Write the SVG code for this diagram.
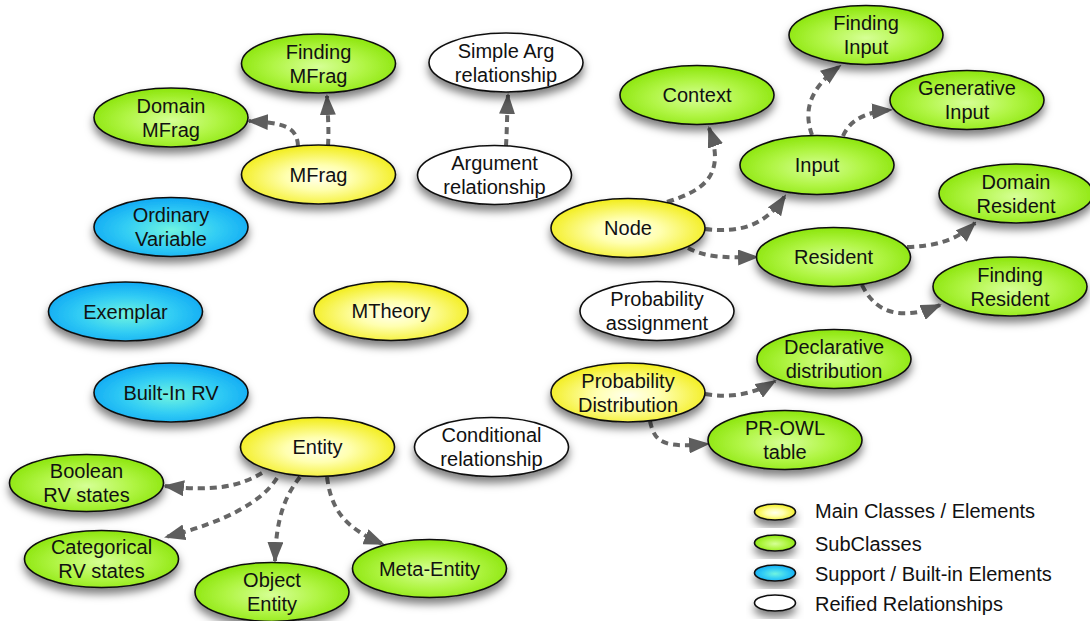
<svg xmlns="http://www.w3.org/2000/svg" width="1090" height="621" viewBox="0 0 1090 621">
  <defs>
    <radialGradient id="gYellow" cx="50%" cy="55%" r="60%">
      <stop offset="0" stop-color="#ffffee"/>
      <stop offset="0.35" stop-color="#ffffb0"/>
      <stop offset="1" stop-color="#f0ea00"/>
    </radialGradient>
    <radialGradient id="gGreen" cx="50%" cy="55%" r="60%">
      <stop offset="0" stop-color="#d6ff96"/>
      <stop offset="0.5" stop-color="#b0f544"/>
      <stop offset="1" stop-color="#84e200"/>
    </radialGradient>
    <radialGradient id="gBlue" cx="50%" cy="55%" r="60%">
      <stop offset="0" stop-color="#70f4e0"/>
      <stop offset="0.5" stop-color="#32cdf4"/>
      <stop offset="1" stop-color="#0aa2f4"/>
    </radialGradient>
    <filter id="shadow" x="-20%" y="-30%" width="140%" height="180%">
      <feDropShadow dx="0" dy="6" stdDeviation="4" flood-color="#000" flood-opacity="0.5"/>
    </filter>
    <marker id="arrow" viewBox="0 0 21 16" refX="19" refY="8" markerWidth="21" markerHeight="16" markerUnits="userSpaceOnUse" orient="auto">
      <path d="M0,0 L21,8 L0,16 z" fill="#5e5e5e"/>
    </marker>
  </defs>
  <style>
    .n ellipse { stroke: #111; stroke-width: 1.6; filter: url(#shadow); }
    .main ellipse { fill: url(#gYellow); }
    .sub ellipse { fill: url(#gGreen); }
    .sup ellipse { fill: url(#gBlue); }
    .rel ellipse { fill: #ffffff; }
    .n text, .legend text { font-family: "Liberation Sans", Arial, Helvetica, sans-serif; font-size: 20px; fill: #111; }
    .n text { text-anchor: middle; }
    .edge { fill: none; stroke: #666; stroke-width: 4; stroke-dasharray: 7 5; marker-end: url(#arrow); }
    .legend ellipse { stroke: #111; stroke-width: 1.6; filter: url(#shadow); }
  </style>

  <rect width="1090" height="621" fill="#ffffff"/>

  <!-- connectors -->
  <g id="connectors">
    <path class="edge" d="M298,146 C297,128 287,123 249,121"/>
    <path class="edge" d="M328,146 C329,130 328,118 327,96"/>
    <path class="edge" d="M506,146 C507,130 507,115 508,95"/>
    <path class="edge" d="M667,202 C705,190 726,175 709,128"/>
    <path class="edge" d="M705,229 C740,233 765,226 785,196"/>
    <path class="edge" d="M688,248 C705,257 722,258 757,257"/>
    <path class="edge" d="M812,135 C803,110 810,88 840,66"/>
    <path class="edge" d="M843,136 C850,120 865,112 891,110"/>
    <path class="edge" d="M907,247 C935,246 956,241 975,223"/>
    <path class="edge" d="M862,285 C875,312 900,322 940,305"/>
    <path class="edge" d="M705,394 C730,398 752,395 775,381"/>
    <path class="edge" d="M650,421 C655,446 668,447 708,444"/>
    <path class="edge" d="M262,473 C240,486 215,492 165,486"/>
    <path class="edge" d="M277,478 C262,502 225,522 166,537"/>
    <path class="edge" d="M300,477 C285,496 276,518 275,561"/>
    <path class="edge" d="M327,477 C331,507 342,527 383,544"/>
  </g>

  <!-- MFrag and its subclasses -->
  <g id="finding-mfrag" class="n sub"><ellipse cx="318.5" cy="63.5" rx="77" ry="29.5"/><text x="318.5" y="58.5">Finding</text><text x="318.5" y="82.5">MFrag</text></g>
  <g id="domain-mfrag" class="n sub"><ellipse cx="171" cy="117.5" rx="77" ry="29.5"/><text x="171" y="112.5">Domain</text><text x="171" y="136.5">MFrag</text></g>
  <g id="mfrag" class="n main"><ellipse cx="318.5" cy="174.5" rx="77" ry="29.5"/><text x="318.5" y="181.5">MFrag</text></g>

  <!-- argument relationships -->
  <g id="simple-arg-relationship" class="n rel"><ellipse cx="506" cy="62.5" rx="77" ry="29.5"/><text x="506" y="57.5">Simple Arg</text><text x="506" y="81.5">relationship</text></g>
  <g id="argument-relationship" class="n rel"><ellipse cx="494.5" cy="175" rx="77" ry="29.5"/><text x="494.5" y="170">Argument</text><text x="494.5" y="194">relationship</text></g>

  <!-- support elements -->
  <g id="ordinary-variable" class="n sup"><ellipse cx="171" cy="227" rx="77" ry="29.5"/><text x="171" y="222">Ordinary</text><text x="171" y="246">Variable</text></g>
  <g id="exemplar" class="n sup"><ellipse cx="125.5" cy="311.5" rx="77" ry="29.5"/><text x="125.5" y="318.5">Exemplar</text></g>
  <g id="built-in-rv" class="n sup"><ellipse cx="171" cy="392.5" rx="77" ry="29.5"/><text x="171" y="399.5">Built-In RV</text></g>

  <g id="mtheory" class="n main"><ellipse cx="391" cy="311" rx="77" ry="29.5"/><text x="391" y="318">MTheory</text></g>

  <!-- Entity and its subclasses -->
  <g id="entity" class="n main"><ellipse cx="317.5" cy="447" rx="77" ry="29.5"/><text x="317.5" y="454">Entity</text></g>
  <g id="conditional-relationship" class="n rel"><ellipse cx="491.5" cy="447" rx="77" ry="29.5"/><text x="491.5" y="442">Conditional</text><text x="491.5" y="466">relationship</text></g>
  <g id="boolean-rv-states" class="n sub"><ellipse cx="86.5" cy="483" rx="77" ry="28.5"/><text x="86.5" y="478">Boolean</text><text x="86.5" y="502">RV states</text></g>
  <g id="categorical-rv-states" class="n sub"><ellipse cx="101.5" cy="559" rx="77" ry="28.5"/><text x="101.5" y="554">Categorical</text><text x="101.5" y="578">RV states</text></g>
  <g id="object-entity" class="n sub"><ellipse cx="272" cy="592" rx="77" ry="29.5"/><text x="272" y="587">Object</text><text x="272" y="611">Entity</text></g>
  <g id="meta-entity" class="n sub"><ellipse cx="429.5" cy="568.5" rx="77" ry="29"/><text x="429.5" y="575.5">Meta-Entity</text></g>

  <!-- Node and its subclasses -->
  <g id="context" class="n sub"><ellipse cx="697" cy="95" rx="77" ry="29.5"/><text x="697" y="102">Context</text></g>
  <g id="finding-input" class="n sub"><ellipse cx="866" cy="35" rx="77" ry="29.5"/><text x="866" y="30">Finding</text><text x="866" y="54">Input</text></g>
  <g id="generative-input" class="n sub"><ellipse cx="967" cy="100" rx="77" ry="29.5"/><text x="967" y="95">Generative</text><text x="967" y="119">Input</text></g>
  <g id="input" class="n sub"><ellipse cx="817" cy="165" rx="77" ry="29.5"/><text x="817" y="172">Input</text></g>
  <g id="node" class="n main"><ellipse cx="628" cy="228" rx="77" ry="29.5"/><text x="628" y="235">Node</text></g>
  <g id="resident" class="n sub"><ellipse cx="833.5" cy="257" rx="77" ry="29.5"/><text x="833.5" y="264">Resident</text></g>
  <g id="domain-resident" class="n sub"><ellipse cx="1016" cy="193.5" rx="77" ry="29.5"/><text x="1016" y="188.5">Domain</text><text x="1016" y="212.5">Resident</text></g>
  <g id="finding-resident" class="n sub"><ellipse cx="1010" cy="286.5" rx="77" ry="29.5"/><text x="1010" y="281.5">Finding</text><text x="1010" y="305.5">Resident</text></g>

  <!-- probability -->
  <g id="probability-assignment" class="n rel"><ellipse cx="657" cy="311" rx="77" ry="29.5"/><text x="657" y="306">Probability</text><text x="657" y="330">assignment</text></g>
  <g id="probability-distribution" class="n main"><ellipse cx="628" cy="392.5" rx="77" ry="29.5"/><text x="628" y="387.5">Probability</text><text x="628" y="411.5">Distribution</text></g>
  <g id="declarative-distribution" class="n sub"><ellipse cx="834" cy="359" rx="77" ry="29.5"/><text x="834" y="354">Declarative</text><text x="834" y="378">distribution</text></g>
  <g id="pr-owl-table" class="n sub"><ellipse cx="785" cy="440" rx="77" ry="29.5"/><text x="785" y="435">PR-OWL</text><text x="785" y="459">table</text></g>

  <!-- legend -->
  <g id="legend" class="legend">
    <ellipse cx="775" cy="512" rx="20.5" ry="8" fill="url(#gYellow)"/>
    <ellipse cx="775" cy="543" rx="20.5" ry="8" fill="url(#gGreen)"/>
    <ellipse cx="775" cy="573" rx="20.5" ry="8" fill="url(#gBlue)"/>
    <ellipse cx="775" cy="603" rx="20.5" ry="8" fill="#ffffff"/>
    <text x="815" y="518">Main Classes / Elements</text>
    <text x="815" y="551">SubClasses</text>
    <text x="815" y="581">Support / Built-in Elements</text>
    <text x="815" y="611">Reified Relationships</text>
  </g>
</svg>
